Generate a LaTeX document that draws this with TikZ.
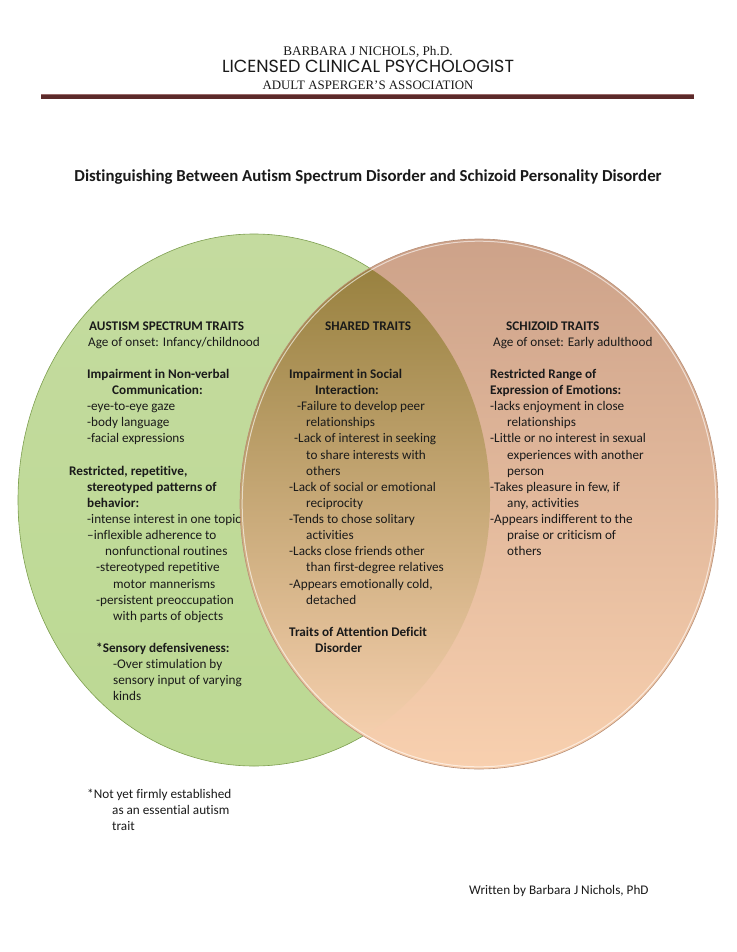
\documentclass[tikz,border=0pt]{standalone}
\usepackage{fontspec}
\setmainfont{Carlito}[Ligatures=NoCommon]
\newfontfamily\hdrserif{Liberation Serif}
\newfontfamily\hdrsans{Poppins}
\usepackage{graphicx}
\definecolor{ink}{HTML}{1A1A1A}
\definecolor{gTop}{HTML}{C4DB9F}
\definecolor{gMid}{HTML}{8DB852}
\definecolor{gBot}{HTML}{BCD993}
\definecolor{gEdge}{HTML}{7E9F50}
\definecolor{oTop}{HTML}{CDA289}
\definecolor{oMid}{HTML}{E4B797}
\definecolor{oBot}{HTML}{F8D0AF}
\definecolor{oEdge}{HTML}{B89078}
\definecolor{lTop}{HTML}{98813F}
\definecolor{lMid}{HTML}{C0A26C}
\definecolor{lBot}{HTML}{F5CFAE}
\definecolor{ruleC}{HTML}{5C2A2A}
\definecolor{ruleT}{HTML}{9A6A6A}
\newcommand\tl[4]{\node[txt] (#1) at (#2,{330+16.13*(#3)}) {#4};}
\begin{document}
\begin{tikzpicture}[x=1pt,y=-1pt,
  txt/.style={anchor=base west, inner sep=0pt, font=\fontsize{13.2}{16}\selectfont, text=ink},
  hdr/.style={anchor=base, inner sep=0pt, text=ink}]
\useasboundingbox[fill=white] (0,0) rectangle (736,952);
% header
\node[hdr, font=\hdrserif\fontsize{13.2}{15}\selectfont] (h1) at (368,55.5) {BARBARA J NICHOLS, Ph.D.};
\node[hdr, font=\hdrsans\fontsize{13}{15}\selectfont] (h2) at (368,73) {\resizebox{292pt}{!}{LICENSED CLINICAL PSYCHOLOGIST}};
\node[hdr, font=\hdrserif\fontsize{12.9}{15}\selectfont] (h3) at (368,89.5) {ADULT ASPERGER’S ASSOCIATION};
\coordinate (rl) at (41,97.5);
\coordinate (rr) at (694,97.5);
\draw[ruleC, line width=4pt] (rl) -- (rr);
\draw[ruleT, line width=0.7pt] ([yshift=3.4pt]rl) -- ([yshift=3.4pt]rr);
% title
\node[hdr, font=\bfseries\fontsize{16.8}{19}\selectfont] (title) at (368,182) {Distinguishing Between Autism Spectrum Disorder and Schizoid Personality Disorder};
% ellipses
\shade[top color=gTop, middle color=gMid, bottom color=gBot] (254,500) ellipse [x radius=236pt, y radius=266pt];
\draw[gEdge, line width=0.6pt] (254,500) ellipse [x radius=236pt, y radius=266pt];
\shade[top color=oTop, middle color=oMid, bottom color=oBot] (479,504) ellipse [x radius=239pt, y radius=265pt];
\begin{scope}
  \clip (254,500) ellipse [x radius=236pt, y radius=266pt];
  \clip (479,504) ellipse [x radius=239pt, y radius=265pt];
  \shade[top color=lTop, middle color=lMid, bottom color=lBot] (238,266) rectangle (492,737);
\end{scope}
\draw[oEdge, line width=0.6pt] (479,504) ellipse [x radius=239pt, y radius=265pt];
\draw[white, opacity=0.6, line width=1pt] (479,504) ellipse [x radius=236.8pt, y radius=262.8pt];
% left column
\tl{a0}{89}{0}{\bfseries AUSTISM SPECTRUM TRAITS}
\tl{a1}{88}{1}{Age of onset: Infancy/childnood}
\tl{a3}{87}{3}{\bfseries Impairment in Non-verbal}
\tl{a4}{112}{4}{\bfseries Communication:}
\tl{a5}{87}{5}{-eye-to-eye gaze}
\tl{a6}{87}{6}{-body language}
\tl{a7}{87}{7}{-facial expressions}
\tl{a9}{69}{9}{\bfseries Restricted, repetitive,}
\tl{a10}{87}{10}{\bfseries stereotyped patterns of}
\tl{a11}{87}{11}{\bfseries behavior:}
\tl{a12}{87}{12}{-intense interest in one topic}
\tl{a13}{87}{13}{–inflexible adherence to}
\tl{a14}{105}{14}{nonfunctional routines}
\tl{a15}{96}{15}{-stereotyped repetitive}
\tl{a16}{113}{16}{motor mannerisms}
\tl{a17}{96}{17}{-persistent preoccupation}
\tl{a18}{113}{18}{with parts of objects}
\tl{a20}{96}{20}{\bfseries *Sensory defensiveness:}
\tl{a21}{113}{21}{-Over stimulation by}
\tl{a22}{113}{22}{sensory input of varying}
\tl{a23}{113}{23}{kinds}
% middle column
\node[txt, anchor=base] (b0) at (368,330) {\bfseries SHARED TRAITS};
\tl{b3}{289}{3}{\bfseries Impairment in Social}
\tl{b4}{315}{4}{\bfseries Interaction:}
\tl{b5}{297}{5}{-Failure to develop peer}
\tl{b6}{306}{6}{relationships}
\tl{b7}{294}{7}{-Lack of interest in seeking}
\tl{b8}{306}{8}{to share interests with}
\tl{b9}{306}{9}{others}
\tl{b10}{289}{10}{-Lack of social or emotional}
\tl{b11}{306}{11}{reciprocity}
\tl{b12}{289}{12}{-Tends to chose solitary}
\tl{b13}{306}{13}{activities}
\tl{b14}{289}{14}{-Lacks close friends other}
\tl{b15}{306}{15}{than first-degree relatives}
\tl{b16}{289}{16}{-Appears emotionally cold,}
\tl{b17}{306}{17}{detached}
\tl{b19}{289}{19}{\bfseries Traits of Attention Deficit}
\tl{b20}{315}{20}{\bfseries Disorder}
% right column
\tl{c0}{506}{0}{\bfseries SCHIZOID TRAITS}
\tl{c1}{493}{1}{Age of onset: Early adulthood}
\tl{c3}{490}{3}{\bfseries Restricted Range of}
\tl{c4}{490}{4}{\bfseries Expression of Emotions:}
\tl{c5}{490}{5}{-lacks enjoyment in close}
\tl{c6}{507}{6}{relationships}
\tl{c7}{490}{7}{-Little or no interest in sexual}
\tl{c8}{507}{8}{experiences with another}
\tl{c9}{507}{9}{person}
\tl{c10}{490}{10}{-Takes pleasure in few, if}
\tl{c11}{507}{11}{any, activities}
\tl{c12}{490}{12}{-Appears indifferent to the}
\tl{c13}{507}{13}{praise or criticism of}
\tl{c14}{507}{14}{others}
% footnote
\node[txt] (f1) at (87,798) {*Not yet firmly established};
\node[txt] (f2) at (112,814) {as an essential autism};
\node[txt] (f3) at (112,830) {trait};
\node[txt] (w1) at (469,894) {Written by Barbara J Nichols, PhD};
\end{tikzpicture}
\end{document}
